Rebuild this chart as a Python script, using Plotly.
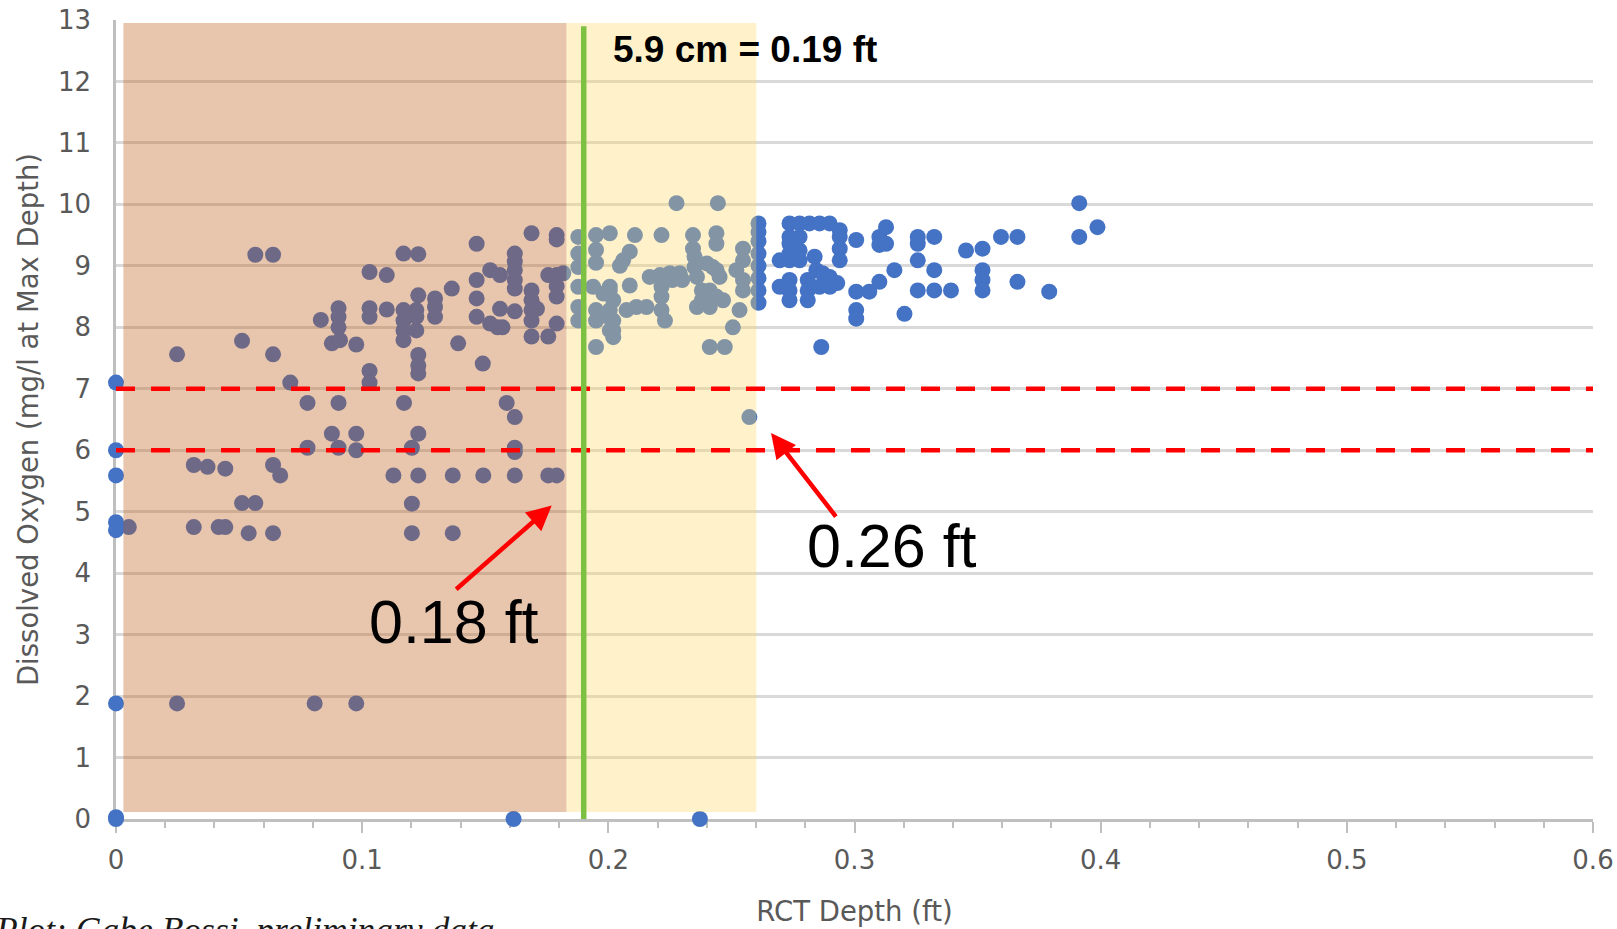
import plotly.graph_objects as go

# ---------------- data ----------------
depth_ft = [
    # points on the y axis (depth ~ 0)
    0.0, 0.0, 0.0, 0.0, 0.0, 0.0, 0.0, 0.0,
    # 0 - 0.183 ft
    0.0052, 0.0248, 0.0248, 0.0316, 0.0316, 0.0372, 0.0417, 0.0444, 0.0444, 0.0512,
    0.0512, 0.0539, 0.0566, 0.0566, 0.0638, 0.0638, 0.0638, 0.0667, 0.0638, 0.0708,
    0.0778, 0.0778, 0.0807, 0.0832, 0.0904, 0.0904, 0.0904, 0.0877, 0.0910, 0.0904,
    0.0877, 0.0904, 0.0976, 0.0976, 0.0976, 0.0976, 0.1030, 0.1100, 0.1030, 0.1030,
    0.1100, 0.1030, 0.1030, 0.1127, 0.1168, 0.1228, 0.1168, 0.1168, 0.1168, 0.1168,
    0.1220, 0.1220, 0.1220, 0.1228, 0.1228, 0.1228, 0.1228, 0.1170, 0.1228, 0.1202,
    0.1228, 0.1202, 0.1202, 0.1296, 0.1296, 0.1296, 0.1364, 0.1368, 0.1368, 0.1390,
    0.1465, 0.1465, 0.1465, 0.1465, 0.1490, 0.1492, 0.1520, 0.1560, 0.1520, 0.1550,
    0.1570, 0.1560, 0.1587, 0.1620, 0.1620, 0.1620, 0.1620, 0.1620, 0.1620, 0.1620,
    0.1620, 0.1620, 0.1620, 0.1688, 0.1688, 0.1688, 0.1688, 0.1688, 0.1688, 0.1710,
    0.1756, 0.1756, 0.1756, 0.1790, 0.1790, 0.1790, 0.1790, 0.1790, 0.1790, 0.1790,
    0.1817,
    # on the x axis (DO ~ 0)
    0.1615, 0.2372,
    # 0.183 - 0.26 ft
    0.1878, 0.1878, 0.1878, 0.1878, 0.1878, 0.1878, 0.1950, 0.2006, 0.1950, 0.1950,
    0.2047, 0.1938, 0.1980, 0.2006, 0.1950, 0.1950, 0.2000, 0.2006, 0.1950, 0.2087,
    0.2060, 0.2108, 0.2216, 0.2277, 0.2445, 0.2344, 0.2344, 0.2439, 0.2439, 0.2547,
    0.2547, 0.2520, 0.2547, 0.2547, 0.2350, 0.2350, 0.2360, 0.2380, 0.2380, 0.2360,
    0.2168, 0.2210, 0.2250, 0.2260, 0.2216, 0.2216, 0.2216, 0.2230, 0.2290, 0.2300,
    0.2400, 0.2424, 0.2440, 0.2452, 0.2412, 0.2439, 0.2466, 0.2412, 0.2087, 0.2006,
    0.2020, 0.2006, 0.2020, 0.2020, 0.2020, 0.2074, 0.2114, 0.2155, 0.2533, 0.2506,
    0.2412, 0.2473, 0.2573,
    0.2610, 0.2610, 0.2610, 0.2610, 0.2610, 0.2610, 0.2610, 0.2610,
    # > 0.26 ft
    0.2696, 0.2696, 0.2736, 0.2777, 0.2817, 0.2858, 0.2899, 0.2940, 0.2736, 0.2736,
    0.2736, 0.2736, 0.2777, 0.2777, 0.2777, 0.2838, 0.2940, 0.2940, 0.2940, 0.3007,
    0.3101, 0.3101, 0.3128, 0.3128, 0.3257, 0.3257, 0.3257, 0.3324, 0.3324, 0.3324,
    0.3257, 0.3392, 0.3453, 0.3520, 0.3595, 0.3662, 0.3520, 0.3520, 0.3520, 0.3662,
    0.3791, 0.3913, 0.3913, 0.3987, 0.3162, 0.3101, 0.3060, 0.3007, 0.3007, 0.3007,
    0.3203, 0.2865, 0.2736, 0.2736, 0.2736, 0.2810, 0.2810, 0.2810, 0.2845, 0.2870,
    0.2899, 0.2930, 0.2858, 0.2900,
]

do_mgl = [
    7.10, 6.00, 5.59, 4.83, 4.70, 1.88, 0.03, 0.00,
    4.75, 7.56, 1.88, 5.76, 4.75, 5.73, 4.75, 4.75, 5.70, 7.78,
    5.14, 4.65, 5.14, 9.18, 9.18, 7.56, 5.76, 5.59, 4.65, 7.10,
    6.77, 6.04, 1.88, 8.12, 8.31, 8.17, 8.00, 7.74, 7.79, 6.77,
    6.27, 6.04, 7.72, 6.27, 6.00, 1.88, 8.90, 8.85, 8.31, 8.17,
    8.29, 7.29, 7.10, 5.59, 9.20, 9.19, 8.28, 8.11, 7.95, 7.79,
    8.28, 8.17, 7.95, 8.52, 7.55, 7.38, 7.25, 6.77, 6.27, 6.04,
    5.59, 5.13, 4.65, 8.47, 8.33, 8.17, 8.63, 5.59, 4.65, 7.74,
    9.36, 8.77, 8.47, 8.17, 7.41, 5.59, 8.93, 8.85, 8.06, 8.00,
    8.00, 8.30, 6.77, 6.54, 6.04, 5.97, 5.59, 9.20, 9.07, 8.93,
    8.77, 8.63, 8.26, 9.53, 8.60, 8.44, 8.28, 8.11, 7.85, 8.30,
    7.85, 8.85, 5.59, 5.59, 9.50, 9.43, 8.85, 8.67, 8.50, 8.06,
    8.88,
    0.00, 0.00,
    9.47, 9.20, 8.98, 8.66, 8.33, 8.11, 9.50, 9.53, 9.26, 9.05,
    9.00, 8.66, 8.55, 8.66, 8.28, 8.11, 8.17, 7.95, 7.68, 9.23,
    9.09, 9.50, 9.50, 10.02, 10.02, 9.50, 9.28, 9.53, 9.36, 9.28,
    9.09, 8.93, 8.77, 8.60, 9.15, 8.98, 8.82, 8.60, 8.44, 8.33,
    8.82, 8.85, 8.88, 8.77, 8.66, 8.50, 8.28, 8.11, 8.88, 8.77,
    9.04, 8.98, 8.93, 8.82, 8.60, 8.50, 8.44, 8.33, 8.68, 8.60,
    8.44, 8.28, 8.11, 7.95, 7.84, 8.28, 8.33, 8.33, 8.28, 8.00,
    7.68, 7.68, 6.54,
    9.69, 9.55, 9.40, 9.20, 9.00, 8.80, 8.60, 8.40,
    9.09, 8.66, 9.69, 9.69, 9.69, 9.69, 9.69, 9.58, 9.47, 9.36,
    9.20, 9.09, 9.47, 9.25, 9.09, 9.15, 9.47, 9.28, 9.09, 9.42,
    9.47, 9.34, 9.63, 9.36, 9.47, 9.36, 9.09, 9.47, 8.93, 8.60,
    8.60, 8.60, 9.25, 9.28, 9.47, 9.47, 8.93, 8.77, 8.60, 8.74,
    8.58, 10.02, 9.47, 9.63, 8.93, 8.74, 8.58, 8.58, 8.28, 8.14,
    8.22, 7.68, 8.77, 8.60, 8.44, 8.77, 8.60, 8.44, 8.93, 8.88,
    8.82, 8.72, 8.66, 8.66,
]

x_tick_vals = [0, 0.1, 0.2, 0.3, 0.4, 0.5, 0.6]
x_tick_text = ["0", "0.1", "0.2", "0.3", "0.4", "0.5", "0.6"]
y_tick_vals = list(range(0, 14))

do_thresholds = [7, 6]              # red dashed reference lines (mg/l)
zone_red = [0.003, 0.183]           # depth band (ft)
zone_yellow = [0.183, 0.2601]       # depth band (ft)
zone_y = [0.115, 12.95]
critical_depth = 0.19               # 5.9 cm = 0.19 ft
critical_y = [0, 12.9]

# ---------------- figure ----------------
fig = go.Figure()
fig.add_trace(go.Scatter(
    x=depth_ft, y=do_mgl, mode="markers",
    marker=dict(size=16, color="#4472C4", line=dict(width=0)),
    cliponaxis=False, showlegend=False, hoverinfo="x+y",
))

shapes = [
    dict(type="rect", xref="x", yref="y", layer="above",
         x0=zone_red[0], x1=zone_red[1], y0=zone_y[0], y1=zone_y[1],
         fillcolor="rgba(189,88,19,0.35)", line=dict(width=0)),
    dict(type="rect", xref="x", yref="y", layer="above",
         x0=zone_yellow[0], x1=zone_yellow[1], y0=zone_y[0], y1=zone_y[1],
         fillcolor="rgba(255,217,102,0.34)", line=dict(width=0)),
]
for t in do_thresholds:
    shapes.append(dict(type="line", xref="paper", yref="y", layer="above",
                       x0=0, x1=1, y0=t, y1=t,
                       line=dict(color="#FF0000", width=4.5, dash="19px,16px")))
shapes.append(dict(type="line", xref="x", yref="y", layer="above",
                   x0=critical_depth, x1=critical_depth,
                   y0=critical_y[0], y1=critical_y[1],
                   line=dict(color="#7DC142", width=5.5)))

annotations = [
    dict(x=0.2012, y=12.52, xref="x", yref="y", xanchor="left", yanchor="middle",
         text="<b>5.9 cm = 0.19 ft</b>", showarrow=False,
         font=dict(family="Liberation Sans, Arial", size=37, color="#000000")),
    dict(x=0.1373, y=3.2, xref="x", yref="y", xanchor="center", yanchor="middle",
         text="0.18 ft", showarrow=False,
         font=dict(family="Liberation Sans, Arial", size=61, color="#000000")),
    dict(x=0.3152, y=4.44, xref="x", yref="y", xanchor="center", yanchor="middle",
         text="0.26 ft", showarrow=False,
         font=dict(family="Liberation Sans, Arial", size=61, color="#000000")),
    # arrows
    dict(x=0.177, y=5.10, xref="x", yref="y", text="", showarrow=True,
         ax=-97, ay=85, arrowhead=2, arrowsize=1.1, arrowwidth=4.5,
         arrowcolor="#FF0000", standoff=0, startstandoff=0),
    dict(x=0.2661, y=6.28, xref="x", yref="y", text="", showarrow=True,
         ax=66, ay=85, arrowhead=2, arrowsize=1.1, arrowwidth=4.5,
         arrowcolor="#FF0000", standoff=0, startstandoff=0),
    # credit line, cut by the bottom edge
    dict(x=0, y=-0.1116, xref="paper", yref="paper", xanchor="left", yanchor="top",
         xshift=-123, text="<i>Plot: Gabe Bossi, preliminary data</i>", showarrow=False,
         font=dict(family="Liberation Serif, DejaVu Serif, serif", size=35.5, color="#1a1a1a")),
]

tick_font = dict(family="DejaVu Sans, sans-serif", size=26, color="#595959")
title_font = dict(family="DejaVu Sans, sans-serif", size=27.5, color="#595959")

fig.update_layout(
    width=1617, height=929,
    margin=dict(l=115.5, r=24, t=19.6, b=110.2, autoexpand=False),
    paper_bgcolor="white", plot_bgcolor="white",
    template="none",
    shapes=shapes, annotations=annotations,
    xaxis=dict(
        range=[0, 0.6], tickvals=x_tick_vals, ticktext=x_tick_text,
        showgrid=False, zeroline=False,
        showline=True, linecolor="#BFBFBF", linewidth=3,
        ticks="outside", ticklen=11, tickwidth=2, tickcolor="#BFBFBF",
        minor=dict(dtick=0.02, ticks="outside", ticklen=6, tickwidth=2, tickcolor="#BFBFBF"),
        tickfont=tick_font, ticklabelstandoff=5,
        title=dict(text="RCT Depth (ft)", standoff=28, font=title_font),
        layer="below traces",
    ),
    yaxis=dict(
        range=[0, 13], tickvals=y_tick_vals,
        showgrid=True, gridcolor="#D9D9D9", gridwidth=2.5, zeroline=False,
        showline=True, linecolor="#BFBFBF", linewidth=2.5,
        ticks="", tickfont=tick_font, ticklabelstandoff=17,
        title=dict(text="Dissolved Oxygen (mg/l at Max Depth)", standoff=12, font=title_font),
        layer="below traces",
    ),
)

fig.write_html(
    "out.html",
    config={"displayModeBar": False},
    post_script="document.body.style.margin='0';document.body.style.overflow='hidden';",
)
